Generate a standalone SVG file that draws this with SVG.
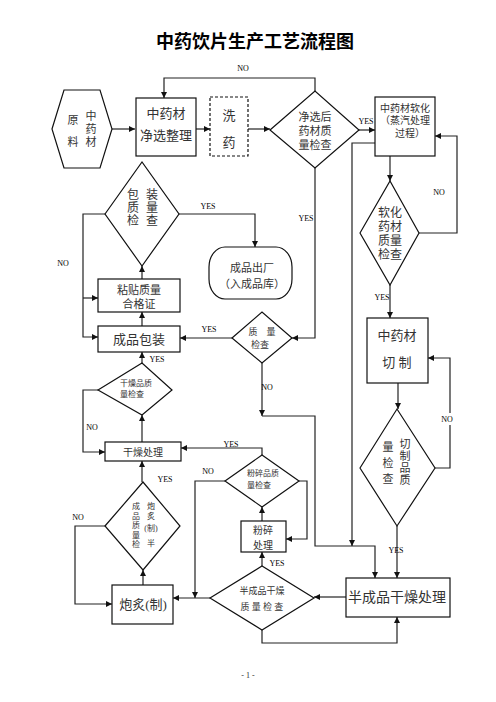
<svg xmlns="http://www.w3.org/2000/svg" width="496" height="702" viewBox="0 0 496 702">
<style>
.n{fill:#fff;stroke:#111;stroke-width:1.2}
.d{fill:#fff;stroke:#111;stroke-width:1.2;stroke-dasharray:3,2}
.c{fill:none;stroke:#222;stroke-width:1.2}
text{font-family:"Liberation Serif","Noto Sans CJK SC","Noto Sans CJK TC",serif;fill:#333;text-anchor:middle;dominant-baseline:central}
.l{font-family:"Liberation Serif",serif;font-size:8px;fill:#000}
.lb{fill:#fff}
</style>
<defs>
<marker id="a" viewBox="0 0 10 10" refX="10" refY="5" markerWidth="6" markerHeight="6" orient="auto" markerUnits="userSpaceOnUse"><path d="M0,0 L10,5 L0,10 z" fill="#111"/></marker>
</defs>
<rect width="496" height="702" fill="#fff"/>
<text x="255" y="42" style="font-size:18px;font-weight:bold;fill:#000">中药饮片生产工艺流程图</text>

<g id="connectors">
<path class="c" d="M112,129 H135" marker-end="url(#a)"/>
<path class="c" d="M196,129 H210" marker-end="url(#a)"/>
<path class="c" d="M248,129 H270" marker-end="url(#a)"/>
<path class="c" d="M315,91 V78 H164 V98" marker-end="url(#a)"/>
<path class="c" d="M359,130 H375" marker-end="url(#a)"/>
<path class="c" d="M315,168 V338 H292" marker-end="url(#a)"/>
<path class="c" d="M375,143 H352 V546" marker-end="url(#a)"/>
<path class="c" d="M390,156 V181" marker-end="url(#a)"/>
<path class="c" d="M419,233 H457 V136 H435" marker-end="url(#a)"/>
<path class="c" d="M390,285 V318" marker-end="url(#a)"/>
<path class="c" d="M398,383 V409" marker-end="url(#a)"/>
<path class="c" d="M435,468 H450 V358 H428" marker-end="url(#a)"/>
<path class="c" d="M397,526 V578" marker-end="url(#a)"/>
<path class="c" d="M262,363 V416" marker-end="url(#a)"/>
<path class="c" d="M262,416 H315 V546 H375 V578" marker-end="url(#a)"/>
<path class="c" d="M346,597 H314" marker-end="url(#a)"/>
<path class="c" d="M262,630 V643 H397 V617" marker-end="url(#a)"/>
<path class="c" d="M210,598 H173" marker-end="url(#a)"/>
<path class="c" d="M225,481 H195 V598" marker-end="url(#a)"/>
<path class="c" d="M143,585 V570" marker-end="url(#a)"/>
<path class="c" d="M105,526 H75 V604 H112" marker-end="url(#a)"/>
<path class="c" d="M142,482 V461" marker-end="url(#a)"/>
<path class="c" d="M142,442 V415" marker-end="url(#a)"/>
<path class="c" d="M98,390 H83 V452 H105" marker-end="url(#a)"/>
<path class="c" d="M142,363 V352" marker-end="url(#a)"/>
<path class="c" d="M142,326 V312" marker-end="url(#a)"/>
<path class="c" d="M142,279 V266" marker-end="url(#a)"/>
<path class="c" d="M105,214 H83 V337 H98" marker-end="url(#a)"/>
<path class="c" d="M83,298 H98" marker-end="url(#a)"/>
<path class="c" d="M179,214 H255 V247" marker-end="url(#a)"/>
<path class="c" d="M232,338 H180" marker-end="url(#a)"/>
<path class="c" d="M262,455 V448 H181" marker-end="url(#a)"/>
<path class="c" d="M299,481 H307 V539 H286" marker-end="url(#a)"/>
<path class="c" d="M262,521 V507" marker-end="url(#a)"/>
<path class="c" d="M262,566 V552" marker-end="url(#a)"/>
<rect class="lb" x="440" y="413" width="16" height="12"/>
<text class="l" x="243" y="68">NO</text>
<text class="l" x="366" y="121">YES</text>
<text class="l" x="306" y="218">YES</text>
<text class="l" x="439" y="192">NO</text>
<text class="l" x="382" y="297">YES</text>
<text class="l" x="447" y="419">NO</text>
<text class="l" x="396" y="550">YES</text>
<text class="l" x="267" y="387">NO</text>
<text class="l" x="208" y="206">YES</text>
<text class="l" x="63" y="263">NO</text>
<text class="l" x="209" y="329">YES</text>
<text class="l" x="157" y="359">YES</text>
<text class="l" x="92" y="427">NO</text>
<text class="l" x="231" y="444">YES</text>
<text class="l" x="208" y="471">NO</text>
<text class="l" x="165" y="479">YES</text>
<text class="l" x="78" y="517">NO</text>
<text class="l" x="277" y="563">YES</text>
</g>

<g id="raw">
<polygon class="n" points="52,129 64,90 100,90 112,129 100,168 64,168"/>
<text style="font-size:11px"><tspan x="73" y="120">原</tspan><tspan x="73" y="142">料</tspan></text>
<text style="font-size:11px"><tspan x="91" y="116">中</tspan><tspan x="91" y="129">药</tspan><tspan x="91" y="142">材</tspan></text>
</g>
<g id="sort">
<rect class="n" x="136" y="98" width="60" height="58"/>
<text style="font-size:13px"><tspan x="166" y="113">中药材</tspan><tspan x="166" y="135">净选整理</tspan></text>
</g>
<g id="wash">
<rect class="d" x="210" y="97" width="38" height="59"/>
<text style="font-size:13px"><tspan x="229" y="115">洗</tspan><tspan x="229" y="142">药</tspan></text>
</g>
<g id="check1">
<polygon class="n" points="270,130 315,91 359,130 315,168"/>
<text style="font-size:11px"><tspan x="315" y="117">净选后</tspan><tspan x="315" y="131">药材质</tspan><tspan x="315" y="145">量检查</tspan></text>
</g>
<g id="soften">
<rect class="n" x="375" y="97" width="60" height="59"/>
<text style="font-size:10px"><tspan x="405" y="108">中药材软化</tspan><tspan x="405" y="120">（蒸汽处理</tspan><tspan x="410" y="133">过程）</tspan></text>
</g>
<g id="check2">
<polygon class="n" points="360,233 390,181 419,233 390,285"/>
<text style="font-size:12px"><tspan x="390" y="213">软化</tspan><tspan x="390" y="227">药材</tspan><tspan x="390" y="241">质量</tspan><tspan x="390" y="255">检查</tspan></text>
</g>
<g id="cut">
<rect class="n" x="367" y="318" width="61" height="65"/>
<text style="font-size:13px"><tspan x="397" y="335">中药材</tspan><tspan x="397" y="362">切 制</tspan></text>
</g>
<g id="check3">
<polygon class="n" points="360,468 397,409 435,468 397,526"/>
<text style="font-size:11px"><tspan x="405" y="444">切</tspan><tspan x="405" y="456">制</tspan><tspan x="405" y="468">品</tspan><tspan x="405" y="480">质</tspan></text>
<text style="font-size:11px"><tspan x="388" y="447">量</tspan><tspan x="388" y="463">检</tspan><tspan x="388" y="479">查</tspan></text>
</g>
<g id="semidry">
<rect class="n" x="346" y="578" width="104" height="39"/>
<text x="397" y="597" style="font-size:14px">半成品干燥处理</text>
</g>
<g id="check4">
<polygon class="n" points="210,598 262,566 314,598 262,630"/>
<text style="font-size:9px"><tspan x="262" y="591">半成品干燥</tspan><tspan x="262" y="607">质 量 检 查</tspan></text>
</g>
<g id="process">
<rect class="n" x="112" y="585" width="61" height="39"/>
<text x="143" y="604" style="font-size:13px">炮炙(制)</text>
</g>
<g id="check5">
<polygon class="n" points="105,526 143,482 180,526 143,570"/>
<text style="font-size:8px"><tspan x="136" y="506">成</tspan><tspan x="136" y="515.5">品</tspan><tspan x="136" y="525">质</tspan><tspan x="136" y="534.5">量</tspan><tspan x="136" y="544">检</tspan></text>
<text style="font-size:8px"><tspan x="151" y="506">炮</tspan><tspan x="151" y="515.5">炙</tspan><tspan x="151" y="528">(制)</tspan><tspan x="151" y="543">半</tspan></text>
</g>
<g id="dry">
<rect class="n" x="105" y="442" width="76" height="19"/>
<text x="143" y="452" style="font-size:10px">干燥处理</text>
</g>
<g id="check6">
<polygon class="n" points="98,390 142,363 172,390 142,415"/>
<text style="font-size:8px;text-anchor:start"><tspan x="120" y="383">干燥品质</tspan><tspan x="120" y="394">量检查</tspan></text>
</g>
<g id="pack">
<rect class="n" x="98" y="326" width="82" height="26"/>
<text x="139" y="339" style="font-size:13px">成品包装</text>
</g>
<g id="label">
<rect class="n" x="98" y="279" width="82" height="33"/>
<text style="font-size:11px"><tspan x="139" y="290">粘贴质量</tspan><tspan x="139" y="304">合格证</tspan></text>
</g>
<g id="check7">
<polygon class="n" points="105,214 142,162 179,214 142,266"/>
<text style="font-size:12px"><tspan x="133" y="195">包</tspan><tspan x="133" y="208">质</tspan><tspan x="133" y="221">检</tspan></text>
<text style="font-size:12px"><tspan x="152" y="195">装</tspan><tspan x="152" y="208">量</tspan><tspan x="152" y="221">查</tspan></text>
</g>
<g id="out">
<rect class="n" x="209" y="247" width="83" height="52" rx="16" ry="20"/>
<text style="font-size:11px"><tspan x="252" y="268">成品出厂</tspan><tspan x="252" y="284">（入成品库）</tspan></text>
</g>
<g id="check8">
<polygon class="n" points="232,338 262,312 292,338 262,363"/>
<text style="font-size:9px"><tspan x="262" y="332">质　量</tspan><tspan x="260" y="345">检查</tspan></text>
</g>
<g id="check9">
<polygon class="n" points="225,481 262,455 299,481 262,507"/>
<text style="font-size:8px;text-anchor:start"><tspan x="247" y="473">粉碎品质</tspan><tspan x="247" y="485">量检查</tspan></text>
</g>
<g id="crush">
<rect class="n" x="241" y="521" width="45" height="31"/>
<text style="font-size:10px"><tspan x="263" y="530">粉碎</tspan><tspan x="263" y="545">处理</tspan></text>
</g>
<text x="248" y="675" style="font-size:8px;font-family:'Liberation Serif',serif">- 1 -</text>
</svg>
